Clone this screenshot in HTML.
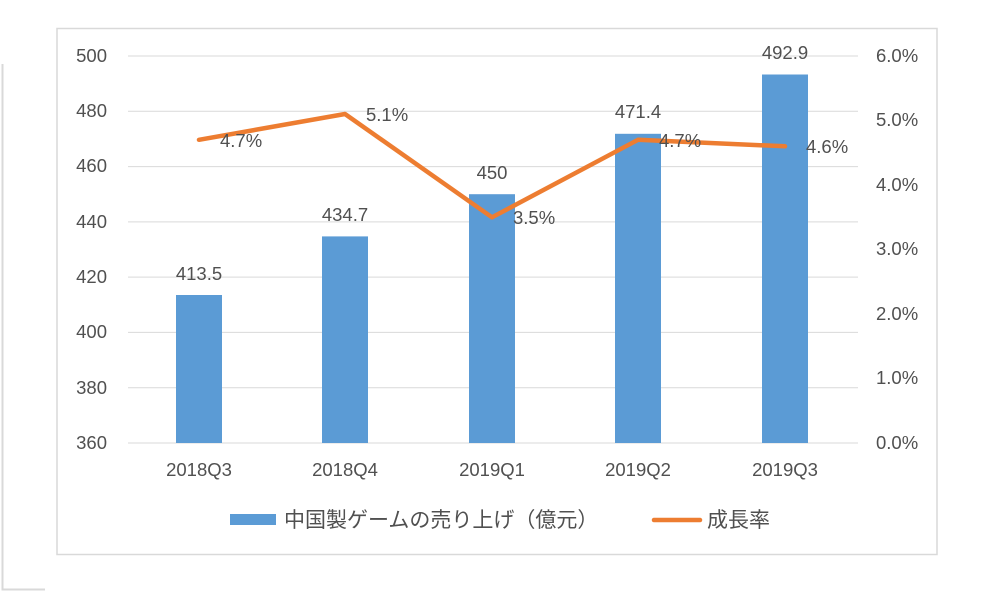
<!DOCTYPE html>
<html><head><meta charset="utf-8"><style>
body{margin:0;background:#fff;}
svg text{font-family:"Liberation Sans","Noto Sans CJK JP",sans-serif;fill:#505050;font-size:18.5px;}
</style></head><body>
<svg width="989" height="592" xmlns="http://www.w3.org/2000/svg">
<rect width="989" height="592" fill="#fff"/>
<path d="M2.5 64 V589.5 H45" fill="none" stroke="#d9d9d9" stroke-width="2"/>
<rect x="57" y="28.5" width="880" height="526" fill="#fff" stroke="#d9d9d9" stroke-width="1.5"/>
<g stroke="#d9d9d9" stroke-width="1">
<line x1="128" x2="858" y1="56" y2="56"/><line x1="128" x2="858" y1="111.3" y2="111.3"/>
<line x1="128" x2="858" y1="166.6" y2="166.6"/><line x1="128" x2="858" y1="221.9" y2="221.9"/>
<line x1="128" x2="858" y1="277.1" y2="277.1"/><line x1="128" x2="858" y1="332.4" y2="332.4"/>
<line x1="128" x2="858" y1="387.7" y2="387.7"/><line x1="128" x2="858" y1="443" y2="443"/>
</g>
<g text-anchor="end">
<text x="107" y="62">500</text><text x="107" y="117">480</text><text x="107" y="172">460</text>
<text x="107" y="228">440</text><text x="107" y="283">420</text><text x="107" y="338">400</text>
<text x="107" y="394">380</text><text x="107" y="449">360</text>
</g>
<g text-anchor="start">
<text x="876" y="62">6.0%</text><text x="876" y="126">5.0%</text><text x="876" y="191">4.0%</text>
<text x="876" y="255">3.0%</text><text x="876" y="320">2.0%</text><text x="876" y="384">1.0%</text>
<text x="876" y="449">0.0%</text>
</g>
<g fill="#5b9bd5">
<rect x="176" y="295" width="46" height="148"/>
<rect x="322" y="236.4" width="46" height="206.6"/>
<rect x="469" y="194.2" width="46" height="248.8"/>
<rect x="615" y="133.8" width="46" height="309.2"/>
<rect x="762" y="74.5" width="46" height="368.5"/>
</g>
<polyline points="199,139.8 345,114 492,217.3 638,139.8 785,146.3" fill="none" stroke="#ed7d31" stroke-width="4.5" stroke-linejoin="round" stroke-linecap="round"/>
<g text-anchor="middle">
<text x="199" y="280">413.5</text><text x="345" y="221">434.7</text><text x="492" y="179">450</text>
<text x="638" y="118">471.4</text><text x="785" y="59">492.9</text>
</g>
<g>
<text x="220" y="147">4.7%</text><text x="366" y="121">5.1%</text><text x="513" y="224">3.5%</text>
<text x="659" y="147">4.7%</text><text x="806" y="153">4.6%</text>
</g>
<g text-anchor="middle">
<text x="199" y="476">2018Q3</text><text x="345" y="476">2018Q4</text><text x="492" y="476">2019Q1</text>
<text x="638" y="476">2019Q2</text><text x="785" y="476">2019Q3</text>
</g>
<rect x="230" y="514" width="46" height="11" fill="#5b9bd5"/>
<text x="284" y="527" style="font-size:21px">中国製ゲームの売り上げ（億元）</text>
<line x1="654" x2="700" y1="520" y2="520" stroke="#ed7d31" stroke-width="4.5" stroke-linecap="round"/>
<text x="707" y="527" style="font-size:21px">成長率</text>
</svg>
</body></html>
